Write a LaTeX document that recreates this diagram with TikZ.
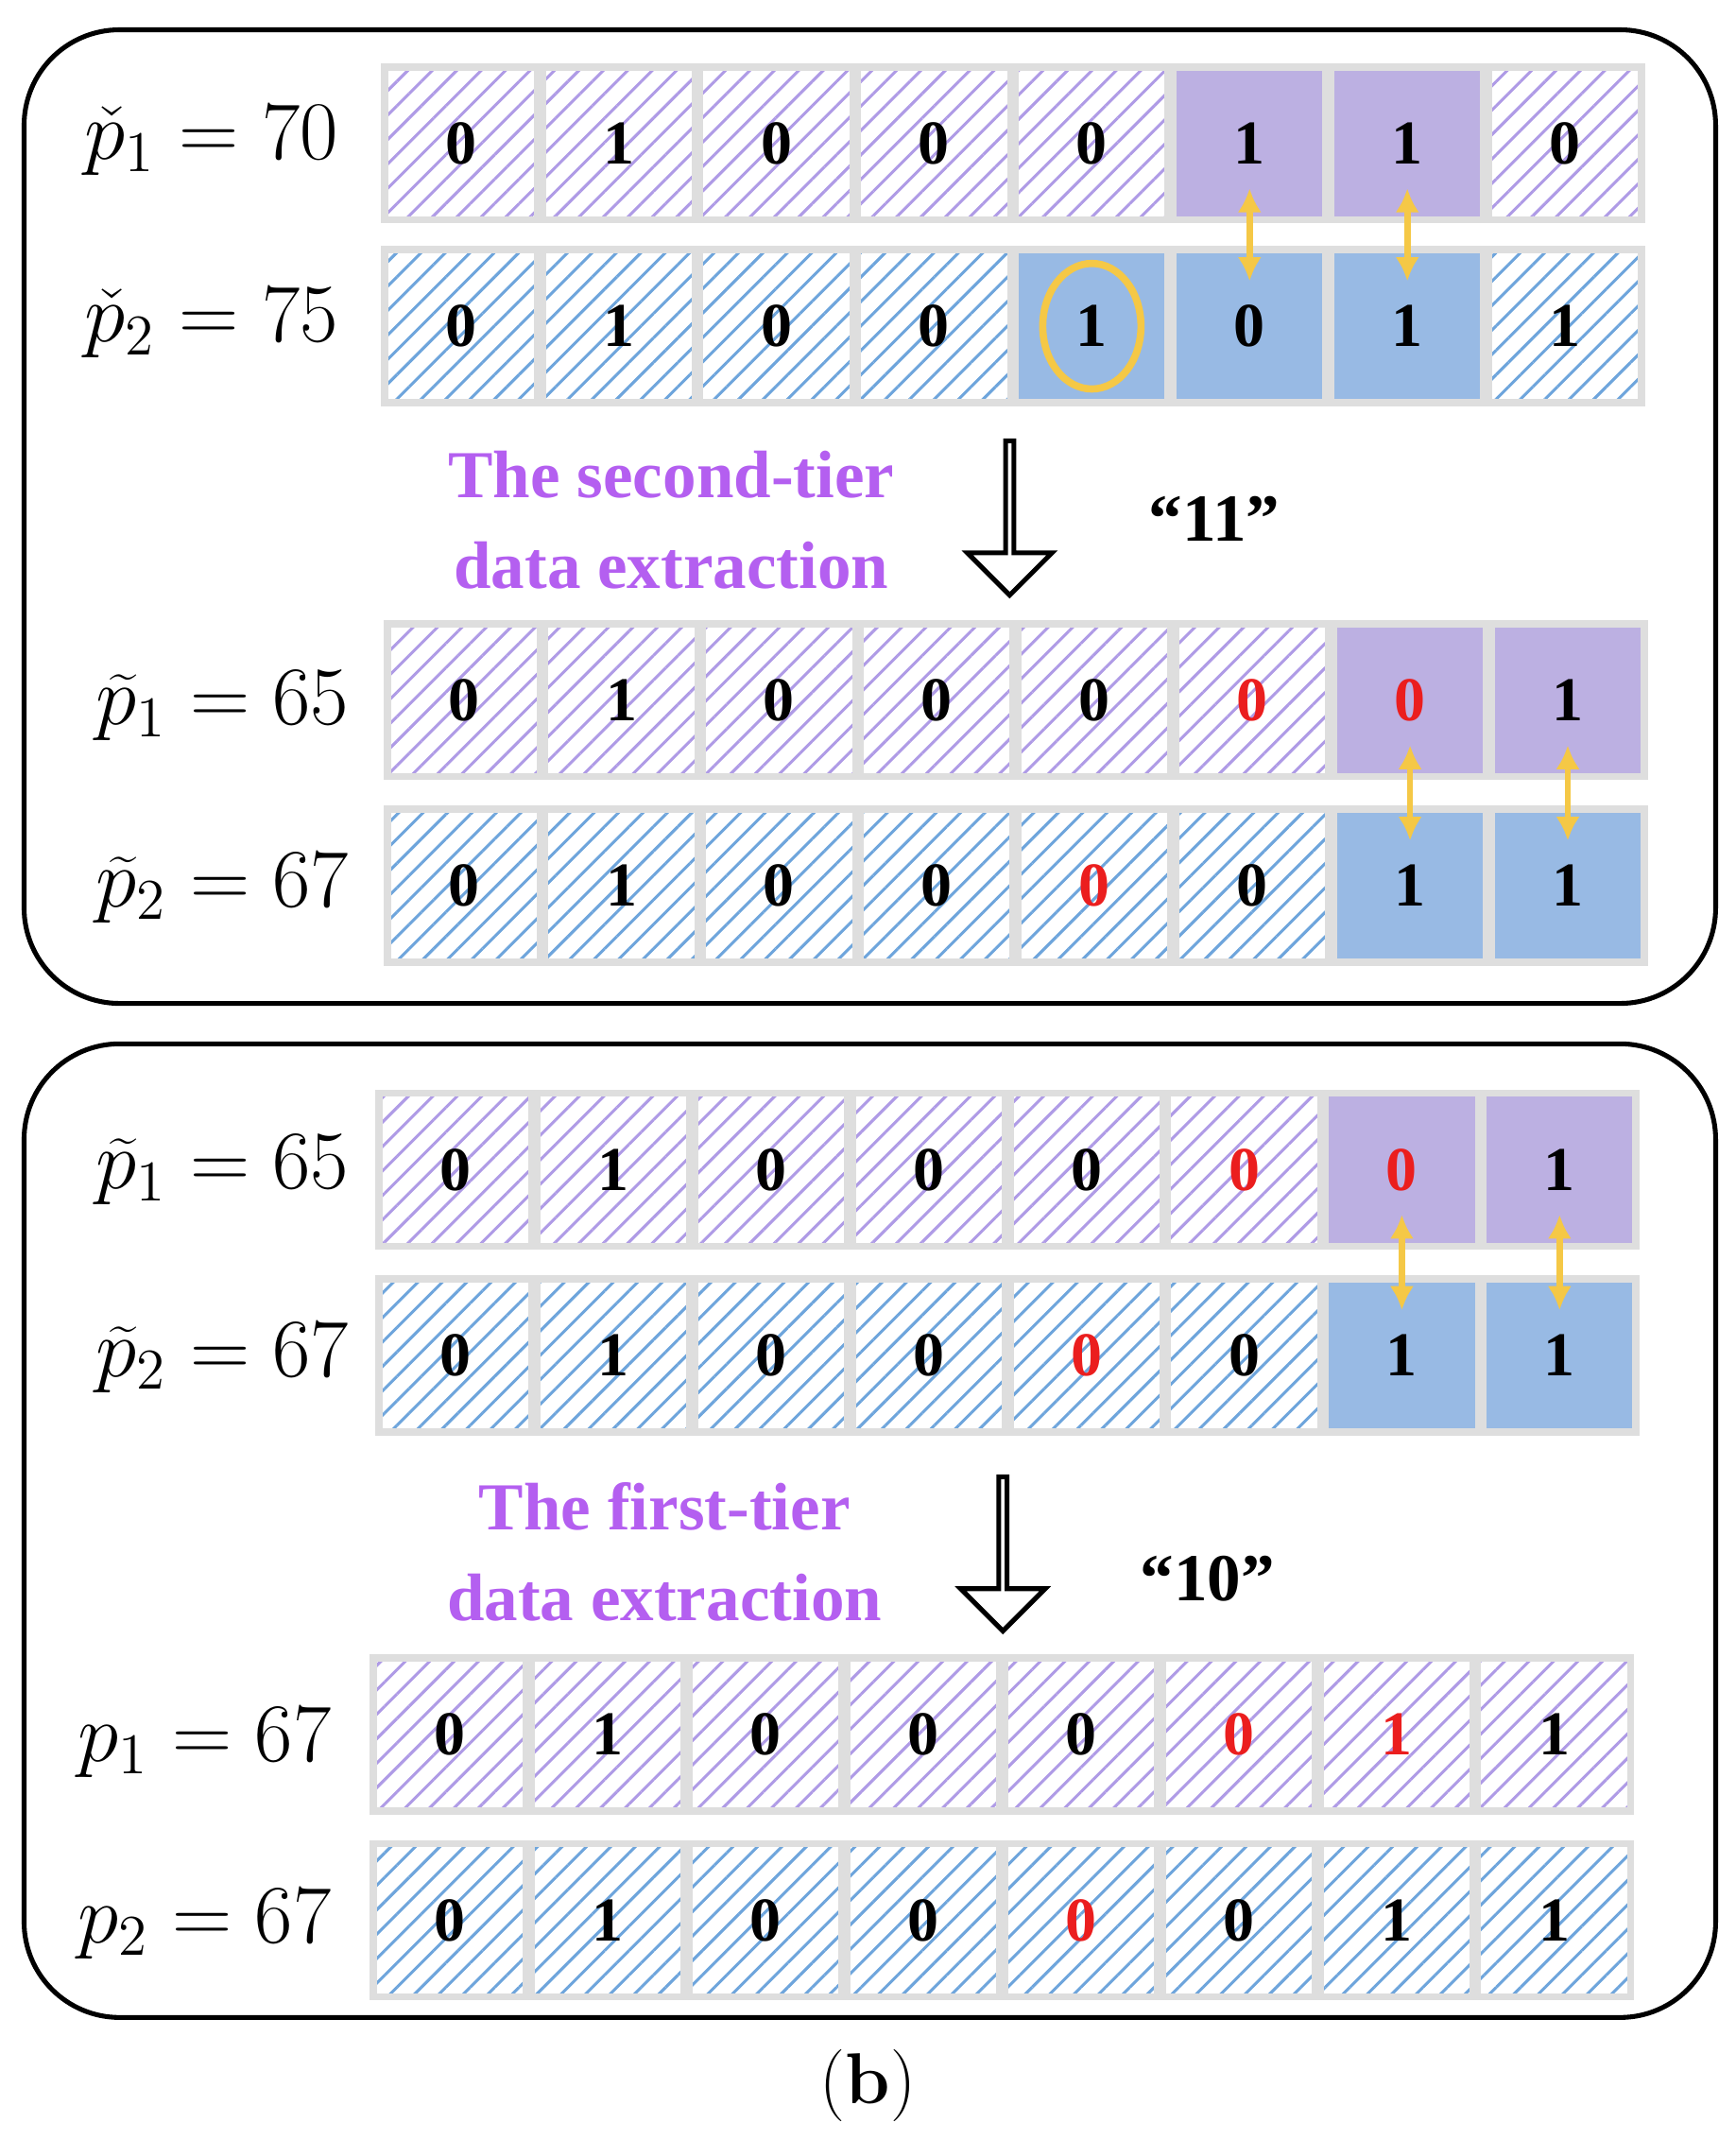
\documentclass[tikz,border=0pt]{standalone}
\usepackage{fontspec}
\usetikzlibrary{patterns.meta,shapes.arrows,arrows.meta}
\definecolor{phatch}{RGB}{175,155,230}
\definecolor{pfill}{RGB}{188,176,226}
\definecolor{bhatch}{RGB}{110,165,220}
\definecolor{bfill}{RGB}{152,186,228}
\definecolor{cellgray}{RGB}{222,222,222}
\definecolor{ttl}{RGB}{180,95,240}
\definecolor{ylw}{RGB}{245,200,70}
\definecolor{rd}{RGB}{235,30,30}
\newfontfamily\digfont{Liberation Serif}
\tikzset{
 cellbox/.style={draw=cellgray,line width=1.5pt,minimum width=1.12cm,minimum height=1.12cm,inner sep=0pt,font=\digfont\fontsize{13}{13}\selectfont\bfseries},
 hp/.style={cellbox,pattern={Lines[angle=45,distance=3.6pt,line width=0.6pt]},pattern color=phatch},
 hb/.style={cellbox,pattern={Lines[angle=45,distance=3.6pt,line width=0.6pt]},pattern color=bhatch},
 sp/.style={cellbox,fill=pfill},
 sb/.style={cellbox,fill=bfill},
 lbl/.style={font=\fontsize{17}{17}\selectfont},
 ttltext/.style={text=ttl,font=\digfont\fontsize{14}{19}\selectfont\bfseries,align=center},
 panel/.style={draw,line width=1pt,rounded corners=0.7cm},
 yarr/.style={ylw,line width=1.3pt,{Latex[length=5pt,width=5pt]}-{Latex[length=5pt,width=5pt]}},
 bigarr/.style={draw,line width=1pt,single arrow,rotate=-90,minimum height=1.13cm,minimum width=0.62cm,single arrow head extend=0.16cm,inner sep=0pt}
}
\newcommand{\cellrow}[4]{%
 \foreach \s/\v/\c [count=\i] in {#4}{%
  \node[\s,text=\c] (#1c\i) at (#3+\i*115.6-57.8,#2) {\v};}}
\begin{document}
\begin{tikzpicture}[x=0.01cm,y=-0.01cm]
\useasboundingbox (0,0) rectangle (1272,1568);
\node[panel,minimum width=12.39cm,minimum height=7.13cm] (P1) at (637.5,378.5) {};
\node[panel,minimum width=12.39cm,minimum height=7.13cm] (P2) at (637.5,1121.5) {};
% panel 1
\node[lbl] (L1) at (155,103) {$\check{p}_1=70$};
\node[lbl] (L2) at (155,237) {$\check{p}_2=75$};
\node[lbl] (L3) at (163,517) {$\widetilde{p}_1=65$};
\node[lbl] (L4) at (163,651) {$\widetilde{p}_2=67$};
\cellrow{ra}{105}{280}{hp/0/black,hp/1/black,hp/0/black,hp/0/black,hp/0/black,sp/1/black,sp/1/black,hp/0/black}
\cellrow{rb}{239}{280}{hb/0/black,hb/1/black,hb/0/black,hb/0/black,sb/1/black,sb/0/black,sb/1/black,hb/1/black}
\cellrow{rc}{513}{282}{hp/0/black,hp/1/black,hp/0/black,hp/0/black,hp/0/black,hp/0/rd,sp/0/rd,sp/1/black}
\cellrow{rd}{649}{282}{hb/0/black,hb/1/black,hb/0/black,hb/0/black,hb/0/rd,hb/0/black,sb/1/black,sb/1/black}
\draw[ylw,line width=1.5pt] (rbc5.center) ellipse (36 and 46);
\draw[yarr] ([yshift=-0.33cm]rac6.center) -- ([yshift=0.33cm]rbc6.center);
\draw[yarr] ([yshift=-0.33cm]rac7.center) -- ([yshift=0.33cm]rbc7.center);
\draw[yarr] ([yshift=-0.33cm]rcc7.center) -- ([yshift=0.33cm]rdc7.center);
\draw[yarr] ([yshift=-0.33cm]rcc8.center) -- ([yshift=0.33cm]rdc8.center);
\node[bigarr] (A1) at (740,378) {};
\node[ttltext] (T1) at (492,381) {The second-tier\\data extraction};
\node[font=\digfont\fontsize{14}{14}\selectfont\bfseries] (Q1) at (890,380) {“11”};
% panel 2
\node[lbl] (L5) at (163,857) {$\widetilde{p}_1=65$};
\node[lbl] (L6) at (163,995) {$\widetilde{p}_2=67$};
\node[lbl] (L7) at (150,1277) {$p_1=67$};
\node[lbl] (L8) at (150,1410) {$p_2=67$};
\cellrow{re}{857}{276}{hp/0/black,hp/1/black,hp/0/black,hp/0/black,hp/0/black,hp/0/rd,sp/0/rd,sp/1/black}
\cellrow{rf}{993}{276}{hb/0/black,hb/1/black,hb/0/black,hb/0/black,hb/0/rd,hb/0/black,sb/1/black,sb/1/black}
\cellrow{rg}{1271}{272}{hp/0/black,hp/1/black,hp/0/black,hp/0/black,hp/0/black,hp/0/rd,hp/1/rd,hp/1/black}
\cellrow{rh}{1407}{272}{hb/0/black,hb/1/black,hb/0/black,hb/0/black,hb/0/rd,hb/0/black,hb/1/black,hb/1/black}
\draw[yarr] ([yshift=-0.33cm]rec7.center) -- ([yshift=0.33cm]rfc7.center);
\draw[yarr] ([yshift=-0.33cm]rec8.center) -- ([yshift=0.33cm]rfc8.center);
\node[bigarr] (A2) at (735,1137) {};
\node[ttltext] (T2) at (487,1137) {The first-tier\\data extraction};
\node[font=\digfont\fontsize{14}{14}\selectfont\bfseries] (Q2) at (885,1157) {“10”};
\node[font=\fontsize{15}{15}\selectfont] (B) at (636,1528) {(\textbf{b})};
\end{tikzpicture}
\end{document}
